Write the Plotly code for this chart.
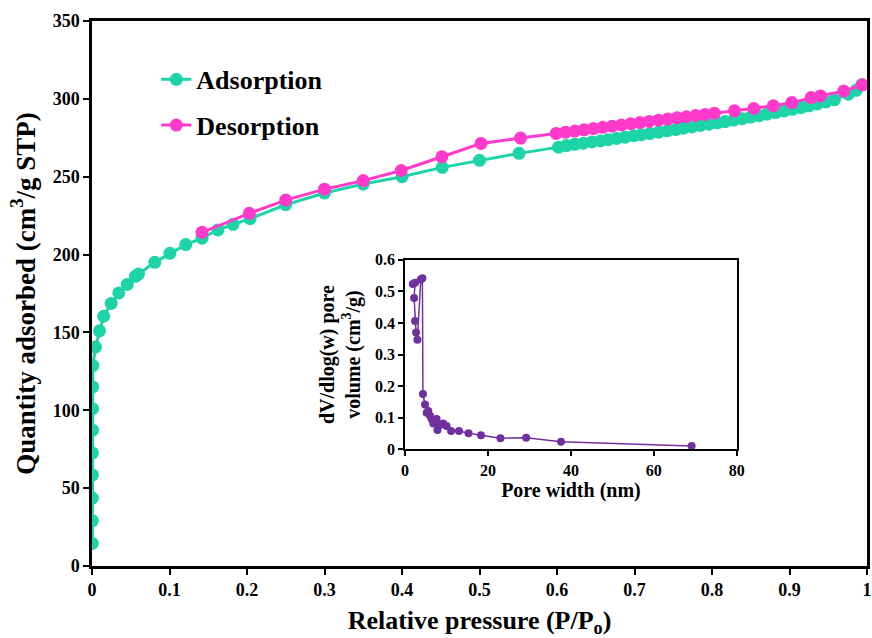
import plotly.graph_objects as go

# Adsorption isotherm
ads_p = [0.0004, 0.0005, 0.0005, 0.0006, 0.0006, 0.0007, 0.0008, 0.0009, 0.0011, 0.0045,
         0.0097, 0.0150, 0.0248, 0.0346, 0.0455, 0.0560, 0.0600, 0.0810, 0.1005, 0.1210,
         0.1420, 0.1625, 0.1820, 0.2040, 0.2500, 0.3000, 0.3500, 0.4000, 0.4520, 0.5000,
         0.5510, 0.6020, 0.6120, 0.6230, 0.6340, 0.6450, 0.6560, 0.6660, 0.6770, 0.6880,
         0.6990, 0.7090, 0.7200, 0.7310, 0.7420, 0.7530, 0.7630, 0.7740, 0.7850, 0.7960,
         0.8070, 0.8170, 0.8280, 0.8390, 0.8500, 0.8610, 0.8710, 0.8820, 0.8930, 0.9040,
         0.9150, 0.9250, 0.9360, 0.9470, 0.9580, 0.9760, 0.9860, 0.9930]
ads_q = [14.5, 29.1, 43.6, 58.5, 72.6, 87.2, 101.0, 115.0, 128.7, 140.6,
         151.0, 160.4, 168.6, 175.4, 180.8, 186.0, 187.5, 195.0, 200.8, 206.4,
         210.5, 215.8, 219.4, 223.0, 232.0, 239.5, 245.3, 250.0, 256.0, 260.5,
         265.0, 269.0, 270.0, 270.8, 271.5, 272.3, 273.0, 273.8, 274.6, 275.4,
         276.3, 277.0, 277.8, 278.6, 279.5, 280.3, 281.2, 282.0, 282.9, 283.7,
         284.6, 285.4, 286.4, 287.3, 288.3, 289.2, 290.2, 291.2, 292.2, 293.3,
         294.4, 295.5, 296.7, 298.0, 299.5, 303.0, 305.5, 309.0]

# Desorption isotherm
des_p = [0.1420, 0.2030, 0.2500, 0.3000, 0.3500, 0.3990, 0.4515, 0.5020, 0.5530, 0.5990,
         0.6110, 0.6230, 0.6350, 0.6470, 0.6590, 0.6710, 0.6830, 0.6950, 0.7070, 0.7190,
         0.7310, 0.7430, 0.7550, 0.7670, 0.7790, 0.7910, 0.8030, 0.8290, 0.8540, 0.8790,
         0.9030, 0.9280, 0.9400, 0.9700, 0.9940]
des_q = [214.3, 226.5, 235.0, 242.0, 247.5, 254.0, 262.8, 271.4, 274.8, 277.8,
         278.6, 279.3, 280.1, 280.9, 281.7, 282.4, 283.2, 284.0, 284.8, 285.5,
         286.3, 287.0, 287.8, 288.5, 289.3, 290.0, 290.8, 292.3, 293.8, 295.5,
         297.6, 300.8, 301.9, 305.0, 309.0]

# Pore size distribution (inset)
pore_w = [1.86, 2.40, 2.17, 2.41, 2.65, 2.96, 3.78, 4.17, 4.30, 4.80,
          5.20, 5.60, 6.00, 6.40, 6.80, 7.20, 7.60, 7.80, 8.40, 9.20,
          10.0, 11.1, 13.0, 15.3, 18.3, 23.0, 29.2, 37.6, 69.1]
pore_v = [0.523, 0.527, 0.479, 0.406, 0.370, 0.347, 0.537, 0.541, 0.175, 0.142,
          0.116, 0.121, 0.106, 0.096, 0.082, 0.093, 0.096, 0.061, 0.077, 0.082,
          0.074, 0.058, 0.058, 0.051, 0.045, 0.035, 0.037, 0.024, 0.011]

# Tick labels
main_x_ticks = [0, 0.1, 0.2, 0.3, 0.4, 0.5, 0.6, 0.7, 0.8, 0.9, 1.0]
main_x_labels = ["0", "0.1", "0.2", "0.3", "0.4", "0.5", "0.6", "0.7", "0.8", "0.9", "1"]
main_y_ticks = [0, 50, 100, 150, 200, 250, 300, 350]
inset_x_ticks = [0, 20, 40, 60, 80]
inset_y_ticks = [0, 0.1, 0.2, 0.3, 0.4, 0.5, 0.6]
inset_y_labels = ["0", "0.1", "0.2", "0.3", "0.4", "0.5", "0.6"]

TEAL = "#1DD4A8"
PINK = "#FF3ACB"
PURPLE = "#7030A0"
FONT = "Liberation Serif"


def bold(size):
    return dict(family=FONT, size=size, color="black", weight="bold")


fig = go.Figure()
fig.add_trace(go.Scatter(x=ads_p, y=ads_q, mode="lines+markers", name="Adsorption",
                         legendgroup="a",
                         line=dict(color=TEAL, width=3),
                         marker=dict(color=TEAL, size=13)))
fig.add_trace(go.Scatter(x=des_p, y=des_q, mode="lines+markers", name="Desorption",
                         legendgroup="d",
                         line=dict(color=PINK, width=3),
                         marker=dict(color=PINK, size=13)))
fig.add_trace(go.Scatter(x=pore_w, y=pore_v, mode="lines+markers", showlegend=False,
                         line=dict(color=PURPLE, width=1.5),
                         marker=dict(color=PURPLE, size=8),
                         xaxis="x2", yaxis="y2"))

fig.update_layout(
    width=872, height=638,
    margin=dict(l=92, r=5, t=21, b=72),
    paper_bgcolor="white", plot_bgcolor="white",
    font=dict(family=FONT, color="black"),
    showlegend=True,
    legend=dict(x=0.083, y=0.936, xanchor="left", yanchor="top",
                bgcolor="rgba(0,0,0,0)", borderwidth=0,
                font=bold(26), tracegroupgap=9, itemwidth=30),
    xaxis=dict(range=[0, 1], tickvals=main_x_ticks, ticktext=main_x_labels,
               showgrid=False, zeroline=False, automargin=False,
               showline=True, linecolor="black", linewidth=2.5, mirror=True,
               ticks="outside", ticklen=6, tickwidth=2, tickcolor="black",
               tickfont=bold(18),
               title=dict(text="Relative pressure (P/P<sub>o</sub>)", standoff=20,
                          font=bold(26))),
    yaxis=dict(range=[0, 350], tickvals=main_y_ticks, showgrid=False, zeroline=False,
               automargin=False,
               showline=True, linecolor="black", linewidth=2.5, mirror=True,
               ticks="outside", ticklen=6, tickwidth=2, tickcolor="black",
               tickfont=bold(18),
               title=dict(text="Quantity adsorbed (cm<sup>3</sup>/g STP)", standoff=10,
                          font=bold(27))),
    xaxis2=dict(domain=[0.404, 0.832], anchor="y2", range=[0, 80], tickvals=inset_x_ticks,
                showgrid=False, zeroline=False, showline=True, linecolor="black",
                automargin=False,
                linewidth=2, mirror=True, ticks="outside", ticklen=5, tickwidth=2,
                tickcolor="black", tickfont=bold(16),
                title=dict(text="Pore width (nm)", standoff=0, font=bold(20))),
    yaxis2=dict(domain=[0.214, 0.562], anchor="x2", range=[0, 0.6],
                tickvals=inset_y_ticks, ticktext=inset_y_labels,
                showgrid=False, zeroline=False, showline=True, linecolor="black",
                automargin=False,
                linewidth=2, mirror=True, ticks="outside", ticklen=5, tickwidth=2,
                tickcolor="black", tickfont=bold(16),
                title=dict(text="dV/dlog(w) pore<br>volume (cm<sup>3</sup>/g)", standoff=9,
                           font=bold(20))),
)

fig.write_html("out.html", config={"displayModeBar": False},
               post_script="document.body.style.margin='0';")
